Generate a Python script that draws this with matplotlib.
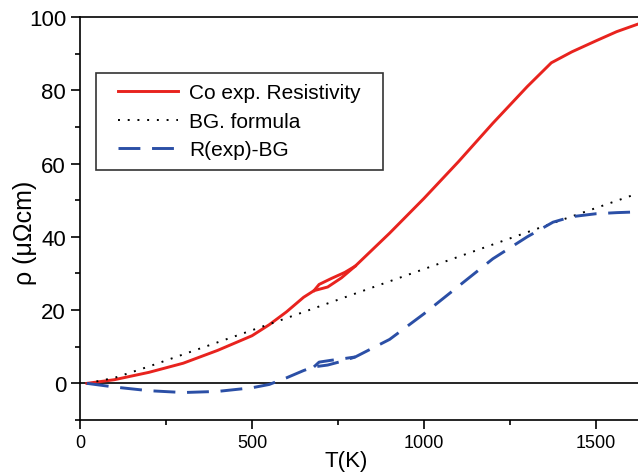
import matplotlib

matplotlib.use("Agg")
import matplotlib.pyplot as plt
from matplotlib.patches import Rectangle
from matplotlib.ticker import MultipleLocator

plt.rcParams["font.family"] = ["Liberation Sans", "DejaVu Sans"]

# Co experimental resistivity (heating branch through the hcp-fcc loop)
T_EXP = [20, 100, 200, 300, 400, 500, 550, 600, 650, 680, 720, 760, 800,
         900, 1000, 1100, 1200, 1300, 1370, 1430, 1500, 1560, 1620]
RHO_EXP = [0, 1.0, 3.0, 5.5, 9.0, 13.0, 16.0, 19.5, 23.5, 25.3, 26.3, 28.8, 32.0,
           41.0, 50.5, 60.5, 71.0, 81.0, 87.5, 90.5, 93.5, 96.0, 98.0]
# upper branch of the loop
T_EXP_LOOP = [680, 695, 730, 770, 800]
RHO_EXP_LOOP = [25.3, 27.0, 28.6, 30.3, 32.0]

# Bloch-Grueneisen formula
T_BG = [20, 100, 200, 300, 400, 500, 600, 800, 1000, 1200, 1400, 1620]
RHO_BG = [0, 1.5, 4.6, 7.9, 11.2, 14.5, 17.8, 24.5, 31.2, 37.9, 44.6, 51.8]

# difference R(exp) - BG
T_DIFF = [20, 100, 200, 300, 400, 500, 550, 600, 650, 680, 720, 760, 800,
          900, 1000, 1100, 1200, 1300, 1375, 1430, 1500, 1560, 1620]
RHO_DIFF = [0, -1.0, -2.0, -2.5, -2.2, -1.2, -0.3, 1.5, 3.5, 4.5, 5.0, 6.0, 7.2,
            12.0, 19.0, 26.5, 34.0, 40.0, 44.0, 45.5, 46.3, 46.6, 46.8]
T_DIFF_LOOP = [680, 695, 730, 770, 800]
RHO_DIFF_LOOP = [4.5, 5.8, 6.3, 6.8, 7.2]

RED = "#e8231e"
BLUE = "#2b4fa6"

fig = plt.figure(figsize=(6.38, 4.77), dpi=100)
ax = fig.add_axes([80 / 638, 56 / 477, 1.0 - 80 / 638, 403 / 477])

ax.plot(T_EXP, RHO_EXP, color=RED, lw=2.1, label="Co exp. Resistivity")
ax.plot(T_EXP_LOOP, RHO_EXP_LOOP, color=RED, lw=2.1)
ax.plot(T_BG, RHO_BG, color="black", lw=1.4, dashes=(1, 4.0), label="BG. formula")
ax.plot(T_DIFF, RHO_DIFF, color=BLUE, lw=2.1, dashes=(7.5, 4), label="R(exp)-BG")
ax.plot(T_DIFF_LOOP, RHO_DIFF_LOOP, color=BLUE, lw=2.1, dashes=(7.5, 4))
ax.axhline(0, color="black", lw=1.2, zorder=1)

ax.set_xlim(0, 1622)
ax.set_ylim(-10, 100)
ax.xaxis.set_major_locator(MultipleLocator(500))
ax.xaxis.set_minor_locator(MultipleLocator(250))
ax.yaxis.set_major_locator(MultipleLocator(20))
ax.yaxis.set_minor_locator(MultipleLocator(10))
ax.tick_params(which="major", direction="out", length=6.5, width=1.2)
ax.tick_params(which="minor", direction="out", length=3.8, width=1.2)
ax.tick_params(axis="y", labelsize=16)
ax.tick_params(axis="x", labelsize=13)
ax.spines["right"].set_visible(False)
for s in ("left", "bottom", "top"):
    ax.spines[s].set_linewidth(1.2)

ax.set_xlabel("T(K)", fontsize=16)
ax.xaxis.set_label_coords(0.477, -0.075)
ax.set_ylabel("ρ (μΩcm)", fontsize=18)
ax.yaxis.set_label_coords(-0.077, 0.466)

leg = ax.legend(loc="upper left", bbox_to_anchor=(0.0502, 0.861), borderaxespad=0,
                fontsize=15, handlelength=2.85, handletextpad=0.55, labelspacing=0.45,
                borderpad=0.5, frameon=False)

# legend frame with wider side padding than the top/bottom padding
fig.canvas.draw()
bb = leg.get_window_extent().transformed(fig.transFigure.inverted())
dx = 12 / 638
fig.add_artist(Rectangle((bb.x0 - dx, bb.y0), bb.width + 2 * dx, bb.height,
                         transform=fig.transFigure, fill=False,
                         edgecolor="#333333", lw=1.2, zorder=5))

fig.savefig("out.png", dpi=100)
